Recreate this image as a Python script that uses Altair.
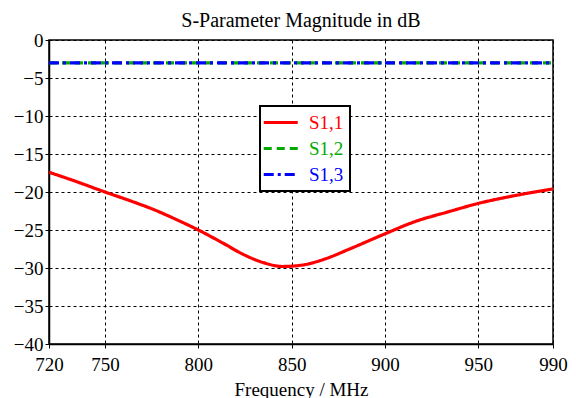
import altair as alt
import pandas as pd

freq_s11 = [720, 732, 750, 764, 776, 788, 800, 813, 824, 835, 845, 856, 868, 881, 900, 916, 934, 950, 969, 990]
db_s11 = [-17.4, -18.4, -20.0, -21.2, -22.3, -23.6, -25.0, -26.7, -28.2, -29.3, -29.8, -29.6, -28.8, -27.5, -25.5, -23.9, -22.6, -21.5, -20.5, -19.6]

freq_flat = [720, 855, 990]
db_s12 = [-3.0, -3.0, -3.0]
db_s13 = [-3.0, -3.0, -3.0]

series = ["S1,1", "S1,2", "S1,3"]
colors = ["#ff0000", "#00aa00", "#0000ff"]
dashes = [[1, 0], [8, 5], [10, 4, 3, 4]]

x_ticks = [720, 750, 800, 850, 900, 950, 990]
y_ticks = [-40, -35, -30, -25, -20, -15, -10, -5, 0]

rows = []
for f, v in zip(freq_s11, db_s11):
    rows.append({"freq": f, "db": v, "series": "S1,1", "order": 0})
for f, v in zip(freq_flat, db_s12):
    rows.append({"freq": f, "db": v, "series": "S1,2", "order": 1})
for f, v in zip(freq_flat, db_s13):
    rows.append({"freq": f, "db": v, "series": "S1,3", "order": 2})
df = pd.DataFrame(rows)

FONT = "Liberation Serif"

label_expr = "datum.label == 'S1,1' ? '#ff0000' : (datum.label == 'S1,2' ? '#00aa00' : '#0000ff')"

chart = alt.Chart(df).mark_line(strokeWidth=3.2, interpolate="monotone", clip=True).encode(
    x=alt.X("freq:Q", scale=alt.Scale(domain=[720, 990], nice=False, zero=False),
            axis=alt.Axis(values=x_ticks, title="Frequency / MHz", format="d", labelFlush=False)),
    y=alt.Y("db:Q", scale=alt.Scale(domain=[-40, 0], nice=False),
            axis=alt.Axis(values=y_ticks, title=None, format="d", labelFlush=False)),
    color=alt.Color("series:N", scale=alt.Scale(domain=series, range=colors),
                    legend=alt.Legend(
                        title=None, orient="none", legendX=211, legendY=66,
                        symbolType="M-1.5,0H2.5", symbolSize=289, symbolStrokeWidth=3.2,
                        labelFont=FONT, labelFontSize=19,
                        labelColor=alt.ExprRef(expr=label_expr),
                        strokeColor="black", fillColor="white", padding=6,
                        rowPadding=5, labelOffset=22)),
    strokeDash=alt.StrokeDash("series:N", scale=alt.Scale(domain=series, range=dashes), legend=None),
    order=alt.Order("order:Q"),
    detail="series:N",
).properties(
    width=504, height=304,
    background="white",
    title=alt.Title("S-Parameter Magnitude in dB", font=FONT, fontSize=20, fontWeight="normal",
                    color="black", offset=0),
    autosize=alt.AutoSizeParams(type="none"),
    padding={"left": 41, "top": 32, "right": 15, "bottom": 54},
).configure_view(
    stroke="black", strokeWidth=1.5,
).configure_axis(
    labelFont=FONT, labelFontSize=19, labelColor="black",
    titleFont=FONT, titleFontSize=19, titleFontWeight="normal", titleColor="black",
    domainColor="black", domainWidth=1.5,
    tickColor="black", tickSize=4, tickWidth=1,
    grid=True, gridColor="black", gridDash=[3, 3], gridWidth=1, gridOpacity=1,
    labelPadding=2,
).configure_axisX(
    labelPadding=7, titlePadding=6,
).configure_legend(
    strokeWidth=2,
)

chart.save("out.html", embed_options={"renderer": "svg", "actions": False})
